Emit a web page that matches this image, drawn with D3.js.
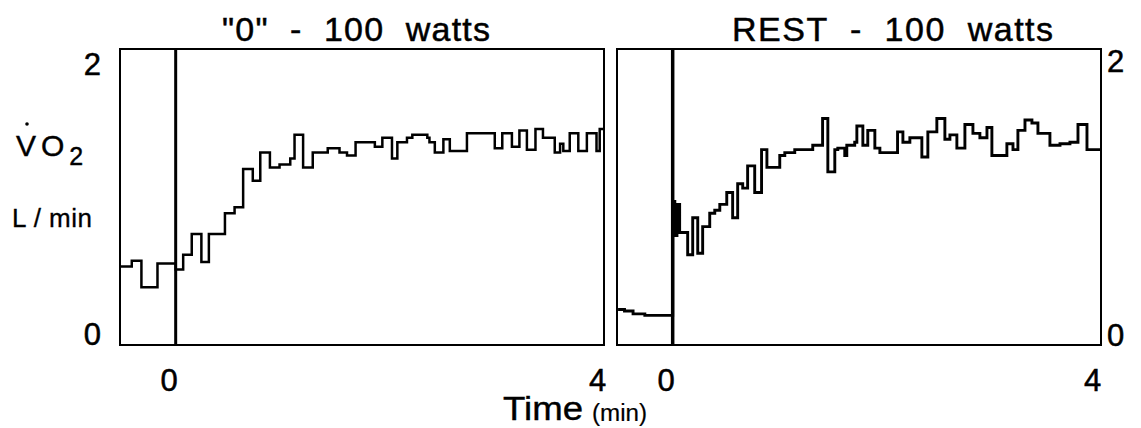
<!DOCTYPE html>
<html>
<head>
<meta charset="utf-8">
<script src="https://cdn.jsdelivr.net/npm/d3@7/dist/d3.min.js"></script>
<style>
  html, body { margin: 0; padding: 0; background: #fff; }
  svg { display: block; }
  text { font-family: "Liberation Sans", Arial, Helvetica, sans-serif; fill: #000; }
</style>
</head>
<body>
<svg id="chart" width="1141" height="428"></svg>
<script>
// ---------- data (time in min, VO2 in L/min) ----------
const panelTitles = ['"0"  -  100  watts', 'REST  -  100  watts'];
const xTickValues = [0, 4];
const yTickValues = [0, 2];
const timeDomain = [-0.52, 4];
const vo2Domain = [0, 2];

// "0" - 100 watts
const leftTimes = [-0.52,-0.41,-0.32,-0.17,
  0.00,0.07,0.15,0.24,0.31,0.46,0.55,0.63,0.72,0.79,
  0.88,0.97,1.07,1.11,1.19,1.28,1.42,1.53,1.60,1.68,
  1.86,1.93,2.02,2.07,2.16,2.21,2.35,2.37,2.42,2.50,
  2.56,2.72,2.98,3.05,3.14,3.21,3.28,3.36,3.43,3.54,
  3.59,3.62,3.68,3.76,3.84,3.93,3.96,4.00];
const leftVO2 = [0.53,0.57,0.39,0.55,
  0.51,0.61,0.75,0.56,0.75,0.89,0.93,1.19,1.11,1.30,
  1.20,1.22,1.26,1.42,1.20,1.30,1.33,1.30,1.28,1.37,
  1.34,1.40,1.26,1.37,1.40,1.42,1.40,1.37,1.30,1.39,
  1.31,1.43,1.33,1.43,1.34,1.45,1.32,1.46,1.40,1.30,
  1.36,1.31,1.43,1.31,1.43,1.31,1.46,1.46];

// REST - 100 watts
const rightTimes = [-0.51,-0.45,-0.37,-0.26,
  0.00,0.02,0.04,0.065,
  0.14,0.187,0.234,0.28,0.346,0.393,0.44,0.505,0.56,0.607,
  0.654,0.70,0.766,0.83,0.88,1.0,1.047,1.14,1.308,1.40,
  1.449,1.514,1.542,1.607,1.626,1.70,1.72,1.776,1.822,1.888,
  1.935,1.98,2.10,2.15,2.215,2.327,2.383,2.467,2.542,2.589,
  2.654,2.729,2.804,2.869,2.935,2.981,3.121,3.178,3.224,3.29,
  3.355,3.411,3.523,3.617,3.71,3.785,3.869,4.00];
const rightVO2 = [0.24,0.23,0.21,0.20,
  0.97,0.74,0.95,0.76,
  0.61,0.86,0.62,0.80,0.89,0.91,0.95,1.03,0.86,1.09,
  1.06,1.21,1.03,1.32,1.20,1.28,1.30,1.32,1.35,1.53,
  1.17,1.32,1.33,1.28,1.35,1.37,1.48,1.35,1.45,1.33,
  1.30,1.30,1.44,1.37,1.40,1.27,1.44,1.53,1.39,1.42,
  1.33,1.49,1.43,1.40,1.47,1.28,1.36,1.32,1.45,1.52,
  1.50,1.43,1.35,1.36,1.37,1.49,1.32,1.32];

// ---------- drawing ----------
const svg = d3.select("#chart");
const y = d3.scaleLinear().domain(vo2Domain).range([345, 49]);

const panels = [
  { title: panelTitles[0], times: leftTimes, vals: leftVO2, range: [120, 604],
    titleX: 222, titleLen: 268, yAxis: "left", zeroW: 3, lineW: 2.5, xdx: [-7, -7] },
  { title: panelTitles[1], times: rightTimes, vals: rightVO2, range: [617, 1101],
    titleX: 732, titleLen: 321, yAxis: "right", zeroW: 3.5, lineW: 2.9, xdx: [-7, -9] }
];

panels.forEach(p => {
  const x = d3.scaleLinear().domain(timeDomain).range(p.range);
  const g = svg.append("g");

  // frame
  g.append("rect")
    .attr("x", x(timeDomain[0])).attr("y", y(vo2Domain[1]))
    .attr("width", x(timeDomain[1]) - x(timeDomain[0]))
    .attr("height", y(vo2Domain[0]) - y(vo2Domain[1]))
    .attr("fill", "none").attr("stroke", "#000").attr("stroke-width", 2);

  // exercise onset line
  g.append("line")
    .attr("x1", x(0)).attr("x2", x(0))
    .attr("y1", y(vo2Domain[0])).attr("y2", y(vo2Domain[1]))
    .attr("stroke", "#000").attr("stroke-width", p.zeroW);

  // breath-by-breath trace
  const data = p.times.map((t, i) => ({ t, v: p.vals[i] }));
  g.append("path")
    .datum(data)
    .attr("fill", "none").attr("stroke", "#000")
    .attr("stroke-width", p.lineW).attr("stroke-linejoin", "miter")
    .attr("d", d3.line().x(d => x(d.t)).y(d => y(d.v)).curve(d3.curveStepAfter));

  // x axis labels
  const xa = g.append("g").attr("transform", `translate(0,${y(0)})`)
    .call(d3.axisBottom(x).tickValues(xTickValues).tickSize(0).tickPadding(24).tickFormat(d3.format("d")));
  xa.select(".domain").remove();
  xa.selectAll("text").attr("font-size", 31).attr("font-family", null)
    .attr("stroke", "#000").attr("stroke-width", 0.5)
    .attr("dx", (d, i) => p.xdx[i]);

  // y axis labels
  if (p.yAxis === "left") {
    const ya = g.append("g").attr("transform", `translate(${x(timeDomain[0])},0)`)
      .call(d3.axisLeft(y).tickValues(yTickValues).tickSize(0).tickPadding(19).tickFormat(d3.format("d")));
    ya.select(".domain").remove();
    ya.selectAll("text").attr("font-size", 31).attr("font-family", null)
      .attr("stroke", "#000").attr("stroke-width", 0.5)
      .attr("y", d => d === 2 ? 16 : -10);
  } else {
    const ya = g.append("g").attr("transform", `translate(${x(timeDomain[1])},0)`)
      .call(d3.axisRight(y).tickValues(yTickValues).tickSize(0).tickPadding(6).tickFormat(d3.format("d")));
    ya.select(".domain").remove();
    ya.selectAll("text").attr("font-size", 31).attr("font-family", null)
      .attr("stroke", "#000").attr("stroke-width", 0.5)
      .attr("y", d => d === 2 ? 13 : -9);
  }

  // panel title
  svg.append("text")
    .attr("x", p.titleX).attr("y", 41)
    .attr("font-size", 34)
    .attr("textLength", p.titleLen).attr("lengthAdjust", "spacing")
    .attr("stroke", "#000").attr("stroke-width", 0.5)
    .style("white-space", "pre")
    .text(p.title);
});

// y-axis title: V-dot O2
const vo2 = svg.append("text").attr("x", 16).attr("y", 156).attr("font-size", 30)
  .attr("stroke", "#000").attr("stroke-width", 0.4);
vo2.append("tspan").text("V");
vo2.append("tspan").attr("dx", 5).text("O");
vo2.append("tspan").attr("dx", 5).attr("dy", 9).attr("font-size", 25).text("2");
svg.append("circle").attr("cx", 27).attr("cy", 124).attr("r", 1.8).attr("fill", "#000");

svg.append("text").attr("x", 12).attr("y", 227).attr("font-size", 26)
  .attr("textLength", 80).attr("lengthAdjust", "spacing")
  .attr("stroke", "#000").attr("stroke-width", 0.3)
  .text("L / min");

// x-axis title
svg.append("text").attr("x", 503).attr("y", 420).attr("font-size", 33)
  .attr("textLength", 80).attr("lengthAdjust", "spacingAndGlyphs")
  .attr("stroke", "#000").attr("stroke-width", 0.4)
  .text("Time");
svg.append("text").attr("x", 592).attr("y", 421).attr("font-size", 23)
  .attr("textLength", 55).attr("lengthAdjust", "spacingAndGlyphs")
  .attr("stroke", "#000").attr("stroke-width", 0.2)
  .text("(min)");
</script>
</body>
</html>
